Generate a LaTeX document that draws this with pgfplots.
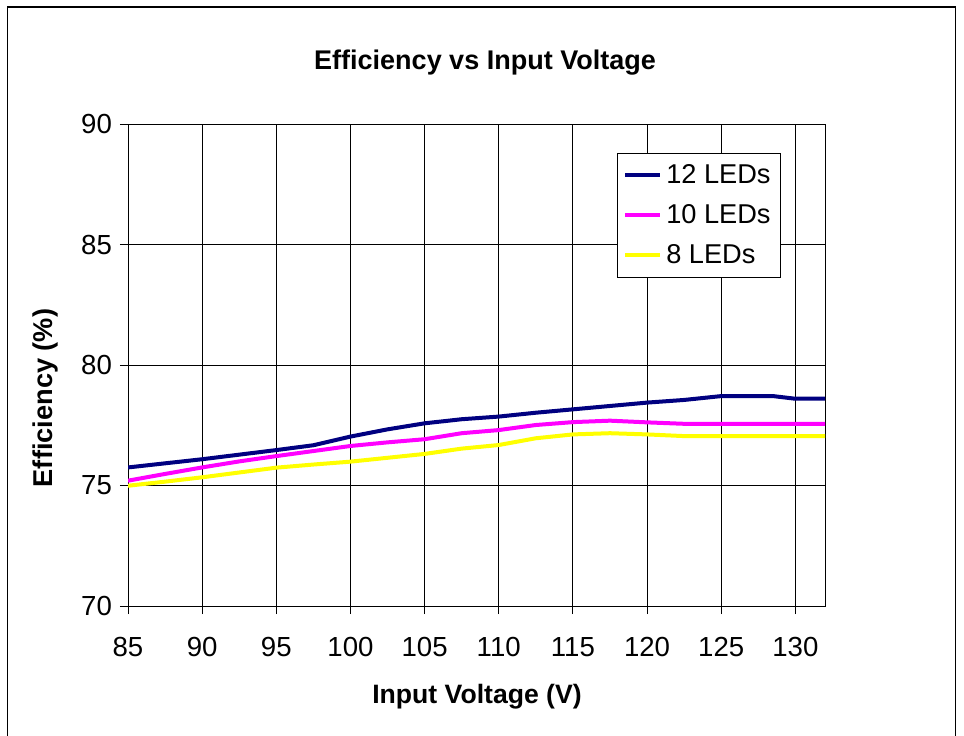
\documentclass[border=0pt]{standalone}
\usepackage{fontspec}
\setmainfont{Liberation Sans}
\usepackage{pgfplots}
\pgfplotsset{compat=1.18}
\definecolor{navyline}{RGB}{0,0,128}
\definecolor{magline}{RGB}{255,0,255}
\definecolor{yelline}{RGB}{255,255,0}
\begin{document}
\begin{tikzpicture}
\path[use as bounding box] (0pt,0pt) rectangle (482pt,367.5pt);
\draw[line width=0.6pt] (3.8pt,-10pt) rectangle (477.8pt,364pt);
\begin{axis}[
  scale only axis,
  width=348.5pt, height=241pt,
  at={(64pt,64.5pt)}, anchor=south west,
  xmin=85, xmax=132, ymin=70, ymax=90,
  xtick={85,90,...,130}, ytick={70,75,...,90},
  grid=major,
  grid style={black, line width=0.5pt},
  axis line style={black, line width=0.5pt},
  tick style={black, line width=0.5pt},
  tick align=outside, major tick length=4pt,
  xtick pos=bottom, ytick pos=left,
  /pgf/number format/assume math mode=true,
  ticklabel style={font=\fontsize{13.8}{16}\selectfont},
  xticklabel style={yshift=-8pt},
  yticklabel style={xshift=-0.5pt},
  legend style={at={(0.937,0.94)}, anchor=north east, draw=black, line width=0.5pt,
    font=\fontsize{13.6}{16}\selectfont, row sep=5pt, inner xsep=3pt, inner ysep=3.5pt},
  legend cell align=left,
  legend image code/.code={\draw[#1] (0pt,0pt) -- (17.5pt,0pt);},
]
\addplot[navyline, line width=2pt] coordinates {
(85,75.75) (87.5,75.92) (90,76.09) (92.5,76.28) (95,76.47) (97.5,76.67) (100,77.03)
(102.5,77.33) (105,77.58) (107.5,77.75) (110,77.86) (112.5,78.02) (115,78.16)
(117.5,78.30) (120,78.44) (122.5,78.55) (125,78.71) (128.5,78.71) (130,78.6) (132,78.6)};
\addlegendentry{12 LEDs}
\addplot[magline, line width=2pt] coordinates {
(85,75.2) (87.5,75.48) (90,75.75) (92.5,76.0) (95,76.22) (97.5,76.43) (100,76.64)
(102.5,76.79) (105,76.92) (107.5,77.17) (110,77.30) (112.5,77.51) (115,77.63)
(117.5,77.69) (120,77.62) (122.5,77.56) (125,77.56) (130,77.56) (132,77.56)};
\addlegendentry{10 LEDs}
\addplot[yelline, line width=2pt] coordinates {
(85,74.99) (87.5,75.16) (90,75.34) (92.5,75.54) (95,75.74) (97.5,75.87) (100,75.99)
(102.5,76.15) (105,76.31) (107.5,76.53) (110,76.68) (112.5,76.96) (115,77.12)
(117.5,77.17) (120,77.12) (122.5,77.05) (125,77.05) (130,77.05) (132,77.05)};
\addlegendentry{8 LEDs}
\end{axis}
\node[font=\bfseries\fontsize{13.5}{16}\selectfont] at (242.5pt,336pt) {Efficiency vs Input Voltage};
\node[font=\bfseries\fontsize{13.3}{16}\selectfont] at (238.5pt,19pt) {Input Voltage (V)};
\node[font=\bfseries\fontsize{13.6}{16}\selectfont, rotate=90] at (22.5pt,168.5pt) {Efficiency (\%)};
\end{tikzpicture}
\end{document}
